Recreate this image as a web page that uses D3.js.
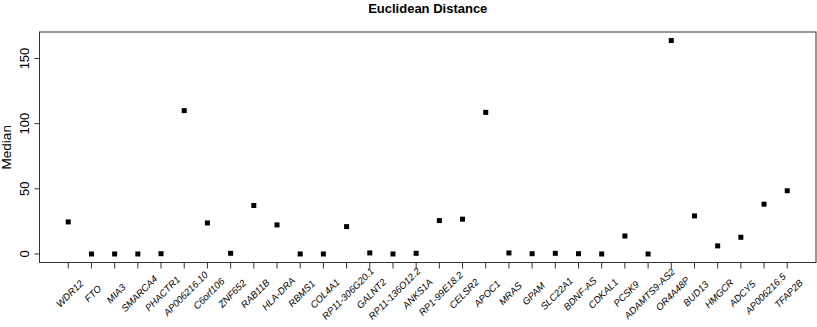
<!DOCTYPE html>
<html>
<head>
<meta charset="utf-8">
<script src="https://cdn.jsdelivr.net/npm/d3@7"></script>
<style>
  body { margin: 0; background: #fff; }
  text { font-family: "Liberation Sans", Arial, sans-serif; }
</style>
</head>
<body>
<div id="chart"></div>
<script>
// gene names along the x axis
var genes = ["WDR12", "FTO", "MIA3", "SMARCA4", "PHACTR1", "AP006216.10", "C6orf106", "ZNF652",
  "RAB11B", "HLA-DRA", "RBMS1", "COL4A1", "RP11-306G20.1", "GALNT2", "RP11-136O12.2", "ANKS1A",
  "RP1-99E18.2", "CELSR2", "APOC1", "MRAS", "GPAM", "SLC22A1", "BDNF-AS", "CDKAL1", "PCSK9",
  "ADAMTS9-AS2", "OR4A48P", "BUD13", "HMGCR", "ADCY5", "AP006216.5", "TFAP2B"];

// median euclidean distance per gene
var medians = [24.6, 0, 0, 0, 0.2, 110, 23.8, 0.5,
  37.2, 22.3, 0, 0, 21, 0.8, 0, 0.5,
  25.6, 26.7, 108.7, 0.8, 0.2, 0.5, 0.2, 0, 13.8,
  0, 163.8, 29.2, 6.2, 12.8, 38.2, 48.5];

var yTicks = [0, 50, 100, 150];

var width = 817, height = 327;
var margin = {top: 32, right: 1, bottom: 64.5, left: 39.5};

var svg = d3.select("#chart").append("svg")
  .attr("width", width)
  .attr("height", height);

// R style padding: 4% on each side
var n = genes.length;
var x = d3.scaleLinear()
  .domain([1 - 0.04 * (n - 1), n + 0.04 * (n - 1)])
  .range([margin.left, width - margin.right]);

var yMin = 0, yMax = d3.max(medians);
var pad = (yMax - yMin) * 0.04;
var y = d3.scaleLinear()
  .domain([yMin - pad, yMax + pad])
  .range([height - margin.bottom, margin.top]);

// plot box
svg.append("rect")
  .attr("x", margin.left)
  .attr("y", margin.top)
  .attr("width", width - margin.right - margin.left)
  .attr("height", height - margin.bottom - margin.top)
  .style("fill", "none")
  .style("stroke", "#333")
  .style("stroke-width", 1);

// x axis ticks + rotated labels (centred a bit right of the tick, like text(srt=45))
var xAxis = svg.append("g")
  .attr("transform", "translate(0," + (height - margin.bottom) + ")");

xAxis.selectAll("line")
  .data(genes)
  .enter()
  .append("line")
    .attr("x1", function(d, i) { return x(i + 1); })
    .attr("x2", function(d, i) { return x(i + 1); })
    .attr("y1", 0)
    .attr("y2", 6)
    .style("stroke", "#333");

xAxis.selectAll("text")
  .data(genes)
  .enter()
  .append("text")
    .attr("transform", function(d, i) { return "translate(" + (x(i + 1) + 3.8) + ",33.5) rotate(-45)"; })
    .attr("text-anchor", "middle")
    .style("font-size", "9.6px")
    .style("font-style", "italic")
    .text(function(d) { return d; });

// y axis (labels parallel to axis like R)
var yAxis = svg.append("g")
  .attr("transform", "translate(" + margin.left + ",0)");

yAxis.selectAll("line")
  .data(yTicks)
  .enter()
  .append("line")
    .attr("x1", -5)
    .attr("x2", 0)
    .attr("y1", function(d) { return y(d); })
    .attr("y2", function(d) { return y(d); })
    .style("stroke", "#333");

yAxis.selectAll("text")
  .data(yTicks)
  .enter()
  .append("text")
    .attr("transform", function(d) { return "translate(-11," + y(d) + ") rotate(-90)"; })
    .attr("text-anchor", "middle")
    .style("font-size", "13px")
    .text(function(d) { return d; });

// points (filled squares)
var s = 5;
svg.append("g").selectAll("rect")
  .data(medians)
  .enter()
  .append("rect")
    .attr("x", function(d, i) { return x(i + 1) - s / 2; })
    .attr("y", function(d) { return y(d) - s / 2; })
    .attr("width", s)
    .attr("height", s)
    .style("fill", "#000");

// title
svg.append("text")
  .attr("x", (margin.left + width - margin.right) / 2)
  .attr("y", 13)
  .attr("text-anchor", "middle")
  .style("font-size", "13px")
  .style("font-weight", "bold")
  .text("Euclidean Distance");

// y label
svg.append("text")
  .attr("transform", "translate(11," + ((margin.top + height - margin.bottom) / 2) + ") rotate(-90)")
  .attr("text-anchor", "middle")
  .style("font-size", "13.5px")
  .text("Median");
</script>
</body>
</html>
